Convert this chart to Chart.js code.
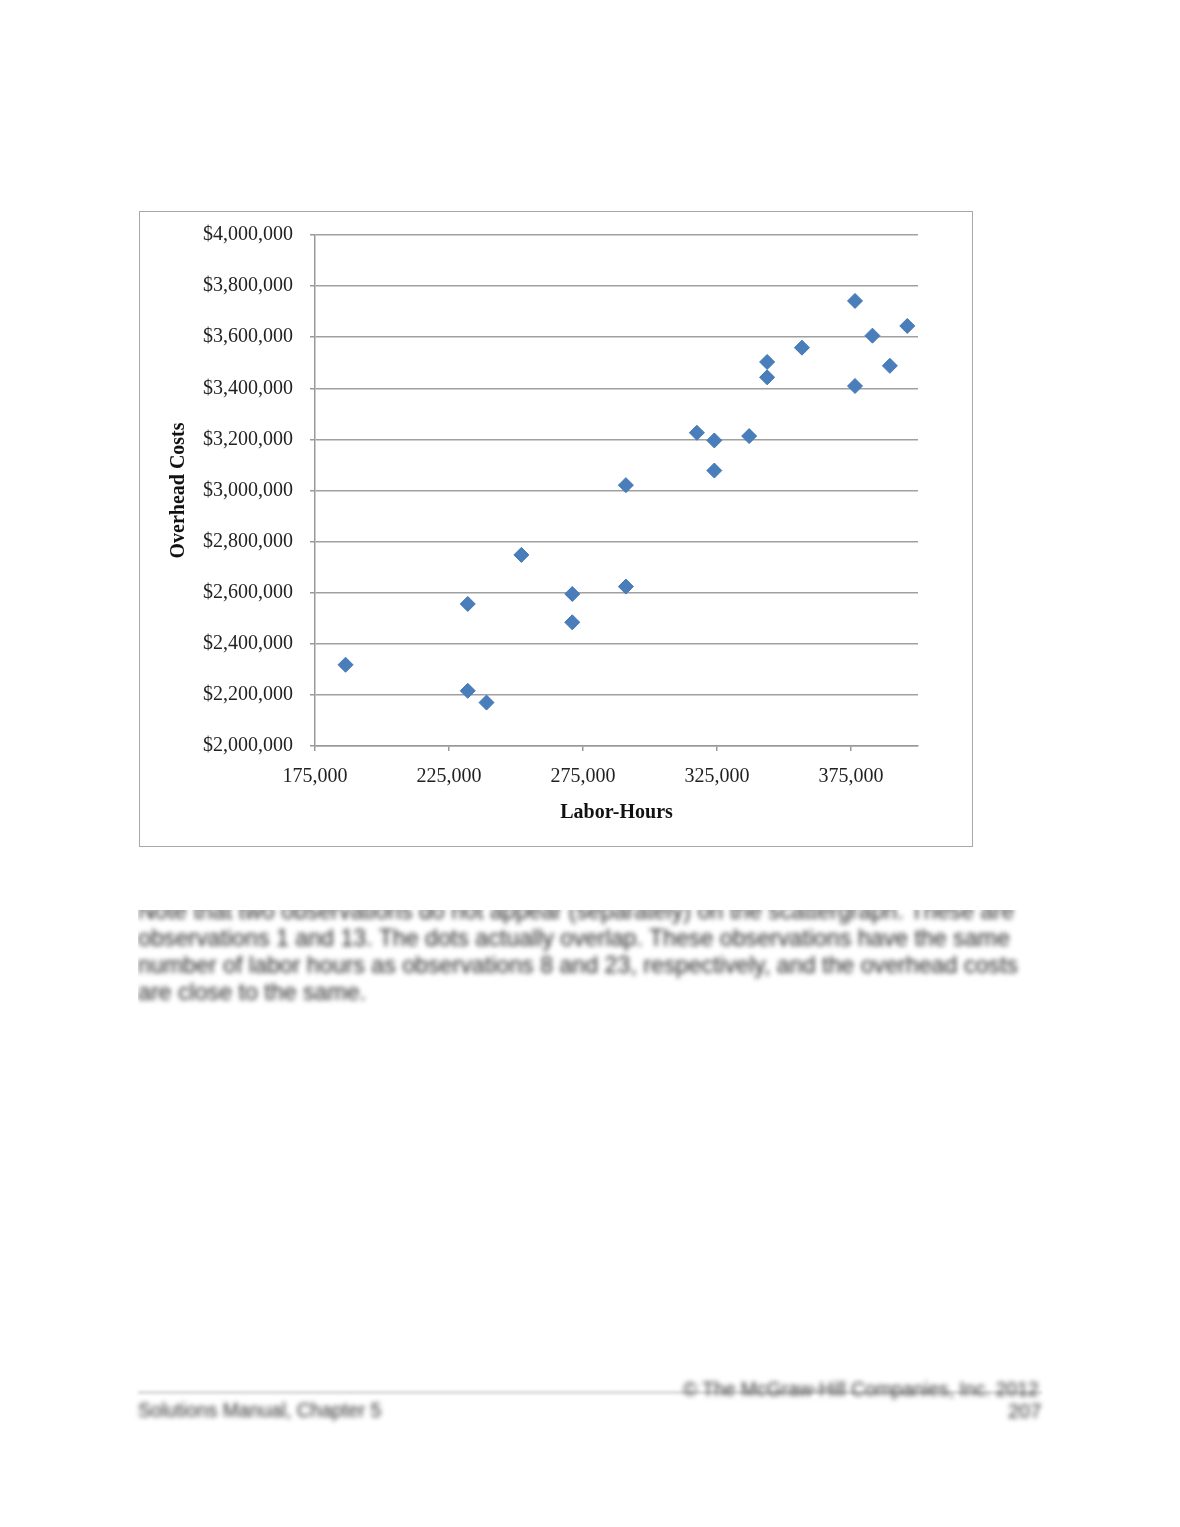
<!DOCTYPE html>
<html>
<head>
<meta charset="utf-8">
<script src="https://cdn.jsdelivr.net/npm/chart.js@4.4.1/dist/chart.umd.min.js"></script>
<style>
  html, body { margin: 0; padding: 0; background: #ffffff; }
  body { width: 1180px; height: 1527px; position: relative; overflow: hidden; }
  #box { position: absolute; left: 139px; top: 211px; width: 834px; height: 636px;
         border: 1px solid #a8a8a8; box-sizing: border-box; background: #fff; }
  #chart { position: absolute; left: 0; top: 0; }
  .para { position: absolute; left: 138px; top: 910px; width: 940px; height: 104px; overflow: hidden; }
  .para .inner { position: relative; top: -12px; font-family: "Liberation Sans", Arial, sans-serif;
         font-size: 23.2px; line-height: 27px; color: #222; filter: blur(2.6px); white-space: nowrap; }
  .footline { position: absolute; left: 138px; top: 1391px; width: 904px; height: 3px;
         background: #d8d8d8; filter: blur(1.5px); }
  .foot { position: absolute; font-family: "Liberation Sans", Arial, sans-serif; color: #2e2e2e;
         filter: blur(2.4px); white-space: nowrap; }
</style>
</head>
<body>
<div id="box"><canvas id="chart" width="832" height="634" style="width:832px;height:634px"></canvas></div>

<div class="para"><div class="inner">
Note that two observations do not appear (separately) on the scattergraph. These are<br>
observations 1 and 13. The dots actually overlap. These observations have the same<br>
number of labor hours as observations 8 and 23, respectively, and the overhead costs<br>
are close to the same.
</div></div>

<div class="footline"></div>
<div class="foot" style="left:683px; top:1379px; font-size:19.3px;">© The McGraw-Hill Companies, Inc. 2012</div>
<div class="foot" style="left:138px; top:1400px; font-size:19.3px;">Solutions Manual, Chapter 5</div>
<div class="foot" style="left:1008px; top:1400px; font-size:20px;">207</div>

<script>
// ---- data ----
const laborHours = [186400, 232000, 232000, 239000, 252000, 271000, 271000, 291000, 291000,
                    317500, 324000, 324000, 337000, 343700, 343700, 356700, 376500, 376500,
                    383000, 389500, 396000];
const overheadCosts = [2318000, 2556000, 2216000, 2170000, 2748000, 2595000, 2484000, 3021000, 2624000,
                       3226000, 3196000, 3078000, 3213000, 3503000, 3443000, 3559000, 3742000, 3409000,
                       3606000, 3488000, 3644000];
const xTickValues = [175000, 225000, 275000, 325000, 375000];
const yTickValues = [2000000, 2200000, 2400000, 2600000, 2800000, 3000000, 3200000, 3400000, 3600000, 3800000, 4000000];
const xTitle = 'Labor-Hours';
const yTitle = 'Overhead Costs';

const points = laborHours.map((x, i) => ({ x: x, y: overheadCosts[i] }));
const serif = '"Liberation Serif", "DejaVu Serif", serif';
const fmt = v => Number(v).toLocaleString('en-US');

new Chart(document.getElementById('chart'), {
  type: 'scatter',
  data: {
    datasets: [{
      data: points,
      pointStyle: 'rectRot',
      pointRadius: 7.5,
      pointHoverRadius: 7.5,
      backgroundColor: '#4a7ebb',
      borderColor: '#4177b6',
      borderWidth: 1
    }]
  },
  options: {
    responsive: false,
    animation: false,
    devicePixelRatio: 1,
    layout: { padding: { left: 0, right: 54, top: 23, bottom: 0 } },
    plugins: { legend: { display: false }, tooltip: { enabled: false } },
    scales: {
      x: {
        type: 'linear',
        min: 175000,
        max: 400000,
        afterBuildTicks: s => { s.ticks = xTickValues.map(v => ({ value: v })); },
        afterFit: s => { s.height = 100; s.paddingLeft = 0; s.paddingRight = 0; },
        grid: { display: true, drawOnChartArea: false, drawTicks: true, tickLength: 5,
                color: '#999', tickColor: '#999', lineWidth: 1.5 },
        border: { display: true, color: '#999', width: 1.5 },
        ticks: { color: '#222', font: { family: serif, size: 20 }, padding: 14,
                 maxRotation: 0, autoSkip: false, callback: v => fmt(v) },
        title: { display: true, text: xTitle, color: '#111',
                 font: { family: serif, size: 20, weight: 'bold' }, padding: { top: 0, bottom: 21 } }
      },
      y: {
        type: 'linear',
        min: 2000000,
        max: 4000000,
        afterBuildTicks: s => { s.ticks = yTickValues.map(v => ({ value: v })); },
        afterFit: s => { s.width = 175; s.paddingTop = 0; s.paddingBottom = 0; },
        grid: { display: true, drawOnChartArea: true, drawTicks: true, tickLength: 5,
                color: '#a0a0a0', tickColor: '#999', lineWidth: 1.5 },
        border: { display: true, color: '#999', width: 1.5 },
        ticks: { color: '#222', font: { family: serif, size: 20 }, padding: 17,
                 autoSkip: false, callback: v => '$' + fmt(v) },
        title: { display: true, text: yTitle, color: '#111',
                 font: { family: serif, size: 20, weight: 'bold' }, padding: { top: 27, bottom: 0 } }
      }
    }
  }
});
</script>
</body>
</html>
